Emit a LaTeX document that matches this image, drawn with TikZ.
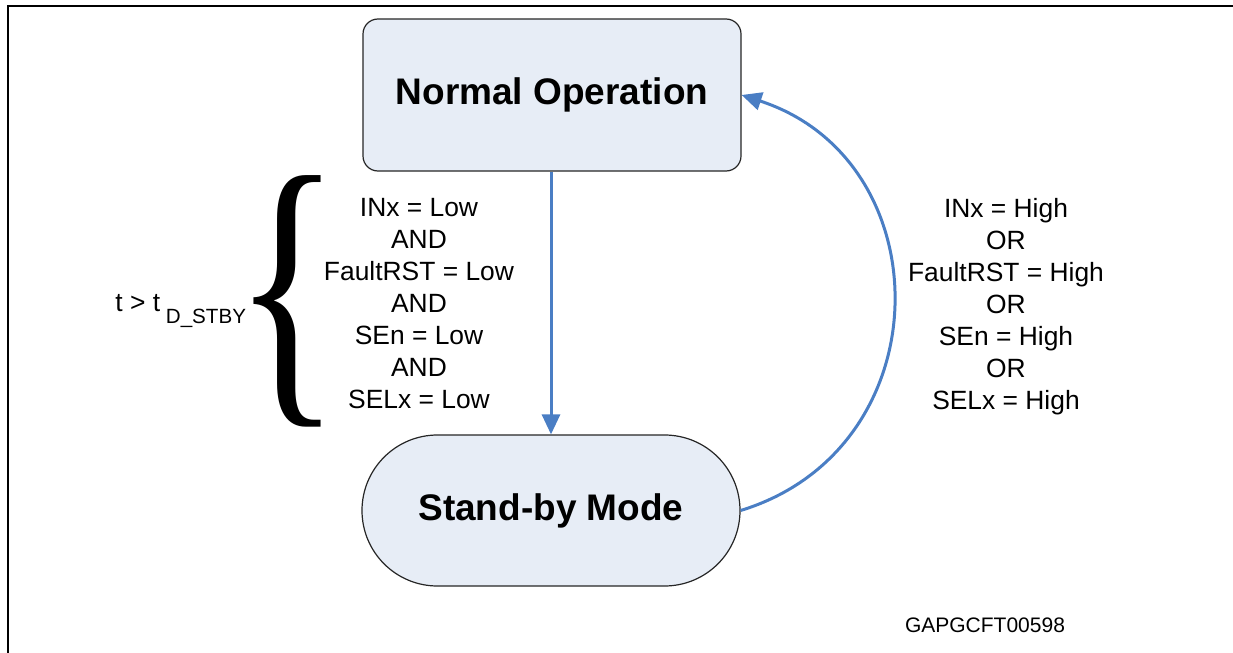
\documentclass[tikz,border=0pt]{standalone}
\usepackage{fontspec}
\setmainfont{Liberation Sans}
\newfontfamily\bracefont{Liberation Serif}
\usetikzlibrary{arrows.meta,shapes.misc}
\definecolor{boxfill}{RGB}{231,237,246}
\definecolor{arrowblue}{RGB}{74,126,196}
\tikzset{
  statebox/.style={draw=black!85, line width=0.6pt, fill=boxfill, font=\fontsize{18.5pt}{22pt}\selectfont\bfseries, inner sep=0pt},
  condtext/.style={align=center, inner sep=0pt, font=\fontsize{13.2pt}{16pt}\selectfont},
  arr/.style={draw=arrowblue, line width=1.5pt, -{Triangle[length=10pt,width=9pt]}},
  frameline/.style={line width=1.3pt, black}
}
\begin{document}
\begin{tikzpicture}[x=0.5pt,y=-0.5pt]
\useasboundingbox (0,0) rectangle (1233,653);
% frame
\coordinate (fl) at (8,653);
\coordinate (fc) at (8,6);
\coordinate (fr) at (1233,6);
\draw[frameline] (fl) -- (fc) -- (fr);
% states
\node[statebox, rectangle, rounded corners=7.5pt, minimum width=189pt, minimum height=76pt] (no) at (552,95) {Normal Operation};
\node[statebox, rounded rectangle, minimum width=189pt, minimum height=75.5pt] (sb) at (551,510.5) {Stand-by Mode};
% transitions
\draw[arr] (no.south -| sb.north) -- (sb.north);
\draw[arr] (sb.east) .. controls +(17:106pt) and +(-18:106pt) .. (no.east);
% conditions
\node[condtext, anchor=north] (lowc) at (419,198) {INx = Low\\AND\\FaultRST = Low\\AND\\SEn = Low\\AND\\SELx = Low};
\node[condtext, anchor=north] (highc) at (1006,198) {INx = High\\OR\\FaultRST = High\\OR\\SEn = High\\OR\\SELx = High};
% brace
\node[inner sep=0pt] (brace) at (290,301) {\scalebox{0.74}[1]{\bracefont\fontsize{152pt}{152pt}\selectfont\kern-22pt\{\kern-19pt}};
\node[anchor=base west, inner sep=0pt, font=\fontsize{13.2pt}{16pt}\selectfont] (tcond) at (115,311) {t > t\raisebox{-6pt}{\fontsize{10.3pt}{12pt}\selectfont\ D\_STBY}};
% code
\node[anchor=base, inner sep=0pt, font=\fontsize{10.5pt}{12pt}\selectfont] (code) at (985,632) {GAPGCFT00598};
\end{tikzpicture}
\end{document}
